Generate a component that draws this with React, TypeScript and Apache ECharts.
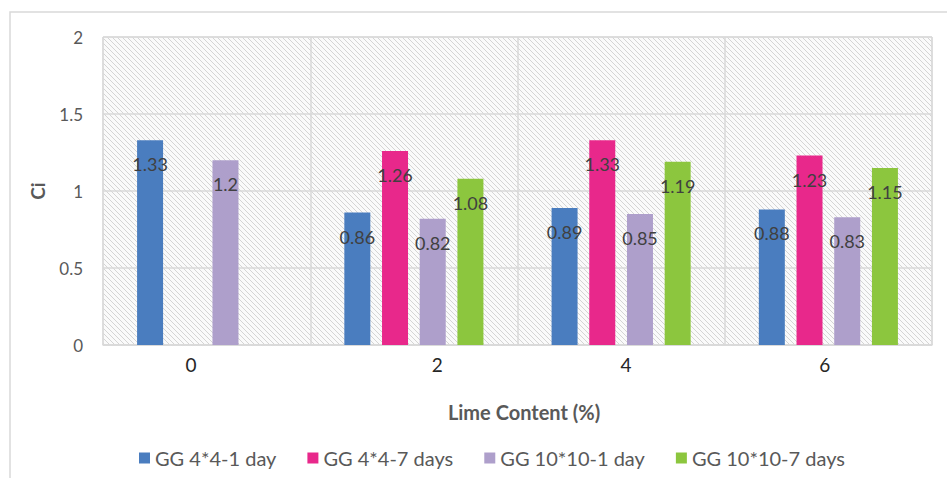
import React, { useEffect, useRef } from "react";
import * as echarts from "echarts";

const categories = ["0", "2", "4", "6"];
const seriesNames = ["GG 4*4-1 day", "GG 4*4-7 days", "GG 10*10-1 day", "GG 10*10-7 days"];
const gg44day1 = [1.33, 0.86, 0.89, 0.88];
const gg44day7 = [null, 1.26, 1.33, 1.23];
const gg1010day1 = [1.2, 0.82, 0.85, 0.83];
const gg1010day7 = [null, 1.08, 1.19, 1.15];
const colors = ["#4a7dbf", "#e8288b", "#ae9fcb", "#8cc63e"];
const yTicks = { min: 0, max: 2, interval: 0.5 };

const FONT = "Lato";

export default function App() {
  const ref = useRef<HTMLDivElement>(null);
  useEffect(() => {
    if (!ref.current) return;
    const chart = echarts.init(ref.current, null, { renderer: "svg" });

    const c = document.createElement("canvas");
    c.width = 5;
    c.height = 5;
    const ctx = c.getContext("2d")!;
    ctx.fillStyle = "#fafafa";
    ctx.fillRect(0, 0, 5, 5);
    ctx.fillStyle = "#d4d4d4";
    for (let i = 0; i < 5; i++) ctx.fillRect(i, i, 1, 1);

    const data = [gg44day1, gg44day7, gg1010day1, gg1010day7];
    const labelShift: Record<string, number[]> = {
      "0": [0, 31, 0, 0],
      "2": [0, 0, 0, 47],
      "4": [0, 0, 0, 10],
      "6": [0, 7, 0, 0],
    };
    const rich: any = {};
    categories.forEach((cat, i) => {
      rich["c" + i] = {
        fontFamily: FONT,
        fontSize: 19,
        color: "#262626",
        padding: labelShift[cat] || [0, 0, 0, 0],
      };
    });

    chart.setOption({
      animation: false,
      backgroundColor: "#ffffff",
      graphic: [
        {
          type: "rect",
          shape: { x: 10, y: 12, width: 960, height: 500 },
          style: { fill: "none", stroke: "#d9d9d9", lineWidth: 1.5 },
          z: -1,
        },
      ],
      grid: {
        left: 103,
        right: 15,
        top: 37,
        bottom: 133,
        show: true,
        backgroundColor: { image: c, repeat: "repeat" },
        borderColor: "#d9d9d9",
        borderWidth: 1,
      },
      legend: {
        left: 134,
        top: 443,
        itemWidth: 11,
        itemHeight: 11,
        itemGap: 31,
        icon: "rect",
        textStyle: { fontFamily: FONT, fontSize: 20, color: "#595959" },
        data: seriesNames,
      },
      xAxis: {
        type: "category",
        data: categories,
        name: "Lime Content (%)",
        nameLocation: "middle",
        nameGap: 57,
        nameTextStyle: {
          fontFamily: FONT,
          fontSize: 20,
          fontWeight: "bold",
          color: "#595959",
          padding: [0, 0, 0, 13],
        },
        axisLine: { show: true, lineStyle: { color: "#d9d9d9", width: 1.5 } },
        axisTick: { show: false },
        axisLabel: {
          margin: 10,
          formatter: (v: string) => "{c" + categories.indexOf(v) + "|" + v + "}",
          rich,
        },
        splitLine: { show: true, interval: 0, lineStyle: { color: "#d9d9d9", width: 1.5 } },
      },
      yAxis: {
        type: "value",
        min: yTicks.min,
        max: yTicks.max,
        interval: yTicks.interval,
        name: "Ci",
        nameLocation: "middle",
        nameGap: 56,
        nameTextStyle: { fontFamily: FONT, fontSize: 19, fontWeight: "bold", color: "#595959" },
        axisLine: { show: false },
        axisTick: { show: false },
        axisLabel: { margin: 20, fontFamily: FONT, fontSize: 17, color: "#595959" },
        splitLine: { show: true, lineStyle: { color: "#d9d9d9", width: 1.5 } },
      },
      series: seriesNames.map((name, i) => ({
        name,
        type: "bar",
        data: data[i],
        barWidth: 26,
        barGap: "45%",
        itemStyle: { color: colors[i] },
        label: {
          show: true,
          position: "insideTop",
          distance: 15,
          fontFamily: FONT,
          fontSize: 18,
          color: "#404040",
        },
      })),
    });
    return () => chart.dispose();
  }, []);
  return (
    <div
      ref={ref}
      style={{ position: "fixed", left: 0, top: 0, width: 947, height: 478 }}
    />
  );
}
